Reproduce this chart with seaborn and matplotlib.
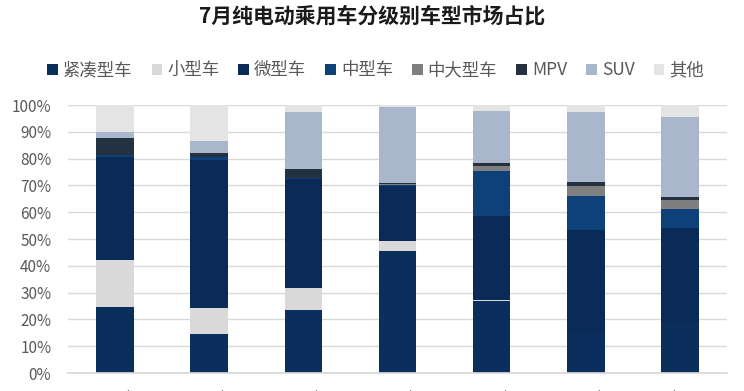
import numpy as np
import pandas as pd
import matplotlib
matplotlib.use("Agg")
import matplotlib.pyplot as plt
import matplotlib.ticker as ticker
from matplotlib.patches import Patch
import seaborn as sns

# --- Data (share %) ---
years = ["2015年", "2016年", "2017年", "2018年", "2019年", "2020年", "2021年1-7月"]
segments = ["紧凑型车", "小型车", "微型车", "中型车", "中大型车", "MPV", "SUV", "其他"]

compact = [24.8, 14.5, 23.6, 45.7, 26.7, 15.0, 18.6]
small = [17.4, 9.7, 8.1, 3.4, 0.5, 0.0, 0.0]
micro = [38.5, 55.3, 40.6, 20.5, 31.2, 38.4, 35.4]
midsize = [0.8, 1.0, 0.4, 0.5, 17.0, 12.7, 7.1]
large = [0.0, 0.0, 0.0, 0.3, 1.9, 3.7, 3.5]
mpv = [6.1, 1.5, 3.3, 0.6, 1.0, 1.5, 1.2]
suv = [2.4, 4.7, 21.5, 28.4, 19.6, 26.1, 29.8]
other = [10.0, 13.3, 2.5, 0.6, 2.1, 2.6, 4.4]

colors = ["#0B2E5C", "#D9D9D9", "#0A2B57", "#0E4079", "#7F7F7F",
          "#243140", "#AAB6CB", "#E4E4E4"]

# --- Styling ---
sns.set_theme(style="white")
plt.rcParams['font.family'] = ['Noto Sans CJK SC', 'DejaVu Sans']

layers = [compact, small, micro, midsize, large, mpv, suv, other]
df = pd.DataFrame({seg: vals for seg, vals in zip(segments, layers)}, index=years)
cum = df.cumsum(axis=1)

fig = plt.figure(figsize=(7.44, 3.91), dpi=100)
ax = fig.add_axes([68 / 744, 18 / 391, 659 / 744, 268 / 391])

# draw cumulative totals from the top layer down so each one overlays the next
for seg, col in reversed(list(zip(segments, colors))):
    sns.barplot(x=years, y=cum[seg].values, color=col, width=0.4,
                saturation=1, ax=ax, linewidth=0)

ax.set_ylim(0, 100)
ax.yaxis.set_major_locator(ticker.MultipleLocator(10))
ax.yaxis.set_major_formatter(ticker.FuncFormatter(lambda v, pos: f"{v:.0f}%"))
ax.grid(axis="y", color="#D9D9D9", linewidth=1)
ax.set_axisbelow(True)
for s in ["top", "right", "left"]:
    ax.spines[s].set_visible(False)
ax.spines["bottom"].set_color("#D9D9D9")
ax.tick_params(axis="y", length=0, labelsize=11, labelcolor="#595959", pad=12)
# category labels sit at the bottom edge, mostly cut off as in the source
ax.tick_params(axis="x", length=0, labelsize=11, labelcolor="#595959", pad=12)
ax.set_xlabel("")
ax.set_ylabel("")

fig.suptitle("7月纯电动乘用车分级别车型市场占比", x=0.5, y=0.985,
             fontsize=15, fontweight="bold", color="#1A1A1A")

handles = [Patch(facecolor=c, edgecolor="none") for c in colors]
fig.legend(handles, segments, loc="center", bbox_to_anchor=(0.505, 0.82),
           ncol=8, frameon=False, fontsize=12.5, labelcolor="#595959",
           handlelength=0.6, handleheight=0.6, handletextpad=0.3,
           columnspacing=1.1)

fig.savefig("out.png", dpi=100)
